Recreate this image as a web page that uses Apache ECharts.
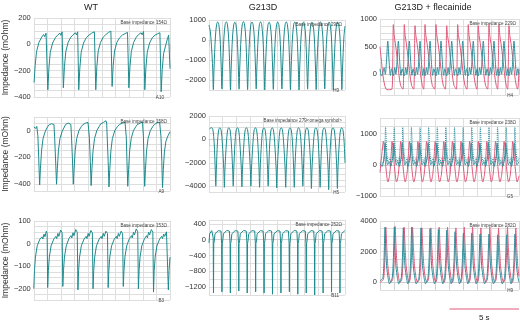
<!DOCTYPE html>
<html><head><meta charset="utf-8">
<script src="https://cdn.jsdelivr.net/npm/echarts@6/dist/echarts.min.js"></script>
<style>html,body{margin:0;padding:0;background:#fff}#c{width:520px;height:323px}</style>
</head><body><div id="c"></div>
<script>
// ---------- DATA (time in s, impedance in mOhm) ----------
const columnTitles = ['WT', 'G213D', 'G213D + flecainide'];
const yAxisTitle = 'Impedance (mOhm)';
const baseLabels = ['Base impedance 154Ω','Base impedance 298Ω','Base impedance 229Ω',
                    'Base impedance 158Ω','Base impedance 279<omega symbol>','Base impedance 238Ω',
                    'Base impedance 153Ω','Base impedance 252Ω','Base impedance 282Ω'];
const wellIds = ['A10','H9','H4','A9','H5','G5','B3','B11','H9'];
const scaleBarSeconds = 5;
const scaleBarLabel = '5 s';

const wtA10 = [0.02,-290,0.1,-160,0.2,-55,0.38,15,0.58,55,0.72,75,0.8,58,0.9,85,0.95,70,1.0,92,1.03,-345,
1.11,-180,1.21,-60,1.38,10,1.58,50,1.75,70,1.82,55,1.92,85,2.0,68,2.08,95,2.13,80,2.15,98,2.17,-330,
2.25,-170,2.35,-55,2.52,15,2.72,55,2.88,72,2.95,58,3.05,88,3.13,72,3.22,95,3.28,100,3.3,-345,
3.38,-180,3.48,-60,3.65,10,3.85,50,4.05,70,4.12,55,4.25,85,4.35,70,4.45,95,4.52,100,4.55,-345,
4.63,-170,4.73,-50,4.9,15,5.1,55,5.3,75,5.37,60,5.48,90,5.56,75,5.66,100,5.72,105,5.75,-320,
5.83,-160,5.93,-50,6.1,15,6.3,50,6.5,70,6.57,55,6.7,82,6.78,68,6.88,90,6.95,88,6.98,-330,
7.06,-170,7.16,-55,7.33,15,7.53,55,7.7,75,7.77,60,7.88,88,7.96,72,8.06,98,8.12,100,8.15,-345,
8.23,-180,8.33,-60,8.5,10,8.7,50,8.9,70,8.97,55,9.08,80,9.16,65,9.26,88,9.32,75,9.35,-360,
9.43,-190,9.53,-70,9.7,0,9.82,45,9.9,70,9.95,75,10,-185];

const wtA9 = [0,25,0.08,35,0.15,15,0.22,30,0.3,-40,0.36,-200,0.43,-405,
0.49,-280,0.57,-150,0.68,-60,0.85,-5,1.0,25,1.1,40,1.18,30,1.28,50,1.35,38,1.42,55,1.48,45,1.53,-50,1.6,-220,1.67,-400,
1.73,-280,1.81,-150,1.92,-60,2.09,-5,2.24,25,2.34,45,2.42,35,2.52,55,2.6,42,2.66,58,2.72,45,2.77,-50,2.84,-220,2.9,-400,
2.96,-280,3.04,-150,3.15,-60,3.32,0,3.5,30,3.62,45,3.7,35,3.82,55,3.92,45,3.98,60,4.03,48,4.08,-50,4.15,-230,4.21,-410,
4.27,-280,4.35,-150,4.46,-60,4.63,0,4.8,30,4.92,50,5.0,40,5.12,60,5.22,50,5.3,72,5.35,55,5.39,-50,5.46,-230,5.52,-420,
5.58,-290,5.66,-150,5.77,-60,5.95,0,6.15,30,6.3,45,6.4,35,6.52,55,6.62,45,6.7,60,6.76,48,6.79,-50,6.84,-230,6.9,-415,
6.96,-290,7.04,-150,7.15,-60,7.32,0,7.5,30,7.62,45,7.7,38,7.82,55,7.92,45,7.98,62,8.02,50,8.05,-50,8.09,-230,8.14,-415,
8.2,-290,8.28,-150,8.39,-60,8.56,0,8.74,30,8.86,45,8.94,38,9.06,58,9.16,45,9.24,62,9.3,48,9.34,-50,9.4,-230,9.45,-425,
9.51,-290,9.59,-160,9.7,-80,9.85,-40,10,-10];

const wtB3 = [0,-200,0.05,-120,0.12,-60,0.25,-10,0.45,20,0.6,30,0.66,20,0.75,42,0.82,30,0.92,55,0.98,45,1.02,-195,
1.07,-120,1.14,-60,1.27,-10,1.47,20,1.62,32,1.68,22,1.77,45,1.84,32,1.97,60,2.08,48,2.13,-190,
2.18,-120,2.25,-60,2.38,-10,2.58,22,2.73,35,2.79,25,2.88,48,2.95,35,3.08,62,3.19,50,3.24,-205,
3.29,-120,3.36,-60,3.49,-10,3.69,20,3.84,32,3.9,22,3.99,45,4.06,32,4.19,58,4.3,48,4.35,-200,
4.4,-120,4.47,-60,4.6,-10,4.8,20,4.95,32,5.01,22,5.1,45,5.17,32,5.3,55,5.41,45,5.46,-195,
5.51,-120,5.58,-60,5.71,-10,5.91,20,6.06,32,6.12,22,6.21,45,6.28,32,6.41,55,6.52,45,6.57,-190,
6.62,-120,6.69,-60,6.82,-10,7.02,22,7.17,35,7.23,25,7.32,50,7.39,38,7.52,65,7.63,52,7.68,-200,
7.73,-120,7.8,-60,7.93,-10,8.13,22,8.28,35,8.34,25,8.43,50,8.5,38,8.63,62,8.74,50,8.79,-215,
8.84,-120,8.91,-60,9.04,-10,9.24,20,9.39,32,9.45,22,9.54,42,9.61,32,9.74,52,9.84,45,9.88,-205,
9.93,-120,10,-60];

const g213dH9 = [0,750,0.1,400,0.2,-500,0.27,-1400,0.32,-2480,
0.37,-1400,0.47,150,0.56,780,0.64,900,0.72,780,0.81,150,0.9,-1400,0.95,-2450,
1.0,-1400,1.1,150,1.19,790,1.27,910,1.35,790,1.44,150,1.53,-1400,1.58,-2500,
1.63,-1400,1.73,150,1.82,770,1.9,890,1.98,770,2.07,150,2.16,-1400,2.21,-2460,
2.26,-1400,2.36,150,2.45,800,2.53,920,2.61,800,2.7,150,2.79,-1400,2.84,-2480,
2.89,-1400,2.99,150,3.08,780,3.16,900,3.24,780,3.33,150,3.42,-1400,3.47,-2450,
3.52,-1400,3.62,150,3.71,790,3.79,910,3.87,790,3.96,150,4.05,-1400,4.1,-2500,
4.15,-1400,4.25,150,4.34,770,4.42,890,4.5,770,4.59,150,4.68,-1400,4.73,-2470,
4.78,-1400,4.88,150,4.97,780,5.05,900,5.13,780,5.22,150,5.31,-1400,5.36,-2450,
5.41,-1400,5.51,150,5.6,790,5.68,910,5.76,790,5.85,150,5.94,-1400,5.99,-2480,
6.04,-1400,6.14,150,6.23,780,6.31,900,6.39,780,6.48,150,6.57,-1400,6.62,-2500,
6.67,-1400,6.77,150,6.86,770,6.94,890,7.02,770,7.11,150,7.2,-1400,7.25,-2460,
7.3,-1400,7.4,150,7.49,780,7.57,900,7.65,780,7.74,150,7.83,-1400,7.88,-2480,
7.93,-1400,8.03,150,8.12,790,8.2,910,8.28,790,8.37,150,8.46,-1400,8.51,-2450,
8.56,-1400,8.66,150,8.75,780,8.83,900,8.91,780,9.0,150,9.09,-1400,9.14,-2500,
9.19,-1400,9.29,150,9.38,770,9.46,890,9.54,770,9.63,150,9.72,-1400,9.77,-2480,
9.82,-1400,9.92,150,10,700];

const g213dH5 = [0.03,900,0.2,1000,0.29,800,0.38,-300,0.46,-2600,0.5,-4000,0.54,-2600,0.62,-300,0.71,800,0.8,1000,
0.89,800,0.98,-300,1.09,-2600,1.13,-4100,1.17,-2600,1.28,-300,1.37,800,1.46,1000,
1.55,800,1.64,-300,1.74,-2600,1.78,-4000,1.82,-2600,1.91,-300,2.0,800,2.09,1000,
2.18,800,2.27,-300,2.38,-2600,2.42,-4050,2.46,-2600,2.57,-300,2.66,800,2.75,1000,
2.84,800,2.93,-300,3.04,-2600,3.08,-4000,3.12,-2600,3.23,-300,3.32,800,3.41,1000,
3.5,800,3.59,-300,3.68,-2600,3.72,-4100,3.76,-2600,3.86,-300,3.95,800,4.04,1000,
4.13,800,4.22,-300,4.31,-2600,4.35,-4000,4.39,-2600,4.47,-300,4.56,800,4.65,1000,
4.74,800,4.83,-300,4.94,-2600,4.98,-4150,5.02,-2600,5.13,-300,5.22,800,5.31,1000,
5.4,800,5.49,-300,5.6,-2600,5.64,-4100,5.68,-2600,5.78,-300,5.87,800,5.96,1000,
6.05,800,6.14,-300,6.23,-2600,6.27,-4100,6.31,-2600,6.41,-300,6.5,800,6.59,1000,
6.68,800,6.77,-300,6.86,-2600,6.9,-4000,6.94,-2600,7.02,-300,7.11,800,7.2,1000,
7.29,800,7.38,-300,7.49,-2600,7.53,-4200,7.57,-2600,7.68,-300,7.77,800,7.86,1000,
7.95,800,8.04,-300,8.13,-2600,8.17,-4100,8.21,-2600,8.29,-300,8.38,800,8.47,1000,
8.56,800,8.65,-300,8.76,-2600,8.8,-4300,8.84,-2600,8.94,-300,9.03,800,9.12,1000,
9.21,800,9.3,-300,9.4,-2600,9.44,-4200,9.48,-2600,9.58,-300,9.67,800,9.76,1000,
9.85,800,9.94,-300,10,-2000];

const g213dB11 = [0,-80,0.05,150,0.12,200,0.2,230,0.28,260,0.31,50,0.33,-1350,
0.35,-100,0.39,-30,0.44,150,0.53,200,0.68,230,0.81,265,0.88,220,0.93,-100,0.95,-1320,
0.97,-100,1.01,-30,1.06,150,1.15,200,1.3,235,1.43,260,1.5,220,1.55,-100,1.57,-1350,
1.59,-100,1.63,-30,1.68,150,1.77,200,1.92,230,2.05,265,2.12,220,2.17,-100,2.19,-1300,
2.21,-100,2.25,-30,2.3,150,2.39,200,2.54,235,2.67,270,2.74,220,2.79,-100,2.81,-1350,
2.83,-100,2.87,-30,2.92,150,3.01,200,3.16,230,3.29,260,3.36,220,3.41,-100,3.43,-1320,
3.45,-100,3.49,-30,3.54,150,3.63,200,3.78,230,3.91,265,3.98,220,4.03,-100,4.05,-1350,
4.07,-100,4.11,-30,4.16,150,4.25,200,4.4,235,4.53,265,4.6,220,4.65,-100,4.67,-1380,
4.69,-100,4.73,-30,4.78,150,4.87,200,5.02,230,5.15,260,5.22,220,5.27,-100,5.29,-1350,
5.31,-100,5.35,-30,5.4,150,5.49,200,5.64,230,5.77,265,5.84,220,5.89,-100,5.91,-1320,
5.93,-100,5.97,-30,6.02,150,6.11,200,6.26,235,6.39,270,6.46,220,6.51,-100,6.53,-1380,
6.55,-100,6.59,-30,6.64,150,6.73,200,6.88,230,7.01,265,7.08,220,7.13,-100,7.15,-1350,
7.17,-100,7.21,-30,7.26,150,7.35,200,7.5,230,7.63,260,7.7,220,7.75,-100,7.77,-1400,
7.79,-100,7.83,-30,7.88,150,7.97,200,8.12,235,8.25,265,8.32,220,8.37,-100,8.39,-1350,
8.41,-100,8.45,-30,8.5,150,8.59,200,8.74,230,8.87,265,8.94,220,8.99,-100,9.01,-1320,
9.03,-100,9.07,-30,9.12,150,9.21,200,9.36,230,9.49,260,9.56,220,9.61,-100,9.63,-1350,
9.65,-100,9.69,-30,9.74,150,9.83,200,9.95,220,10,230];

const flecH4Red = [0,500,0.08,300,0.2,0,0.34,-200,0.5,-280,0.86,-270,0.92,300,0.96,900,1.02,700,1.11,550,1.23,300,1.36,0,1.48,-200,
1.65,-270,1.71,300,1.75,900,1.81,700,1.9,550,2.02,300,2.15,0,2.27,-200,
2.42,-270,2.48,300,2.52,880,2.58,700,2.67,550,2.79,300,2.92,0,3.04,-200,
3.14,-270,3.2,300,3.24,900,3.3,700,3.39,550,3.51,300,3.64,0,3.76,-200,
3.93,-270,3.99,300,4.03,900,4.09,700,4.18,550,4.3,300,4.43,0,4.55,-200,
4.7,-270,4.76,300,4.8,880,4.86,700,4.95,550,5.07,300,5.2,0,5.32,-200,
5.49,-270,5.55,300,5.59,900,5.65,700,5.74,550,5.86,300,5.99,0,6.11,-200,
6.25,-270,6.31,300,6.35,900,6.41,700,6.5,550,6.62,300,6.75,0,6.87,-200,
6.97,-270,7.03,300,7.07,880,7.13,700,7.22,550,7.34,300,7.47,0,7.59,-200,
7.74,-270,7.8,300,7.84,900,7.9,700,7.99,550,8.11,300,8.24,0,8.36,-200,
8.46,-270,8.52,300,8.56,900,8.62,700,8.71,550,8.83,300,8.96,0,9.08,-200,
9.18,-270,9.24,300,9.28,880,9.34,700,9.43,550,9.55,300,9.68,0,9.8,-200,9.9,-270,10,100];

const flecH4Teal = [0,100,0.1,-30,0.18,0,0.3,120,0.38,0,0.47,250,0.56,600,0.65,250,0.75,-20,0.83,100,
0.96,-30,1.06,120,1.14,0,1.23,250,1.32,600,1.41,250,1.51,-20,1.59,100,
1.75,-30,1.85,120,1.93,0,2.02,250,2.11,600,2.2,250,2.3,-20,2.38,100,
2.52,-30,2.62,120,2.7,0,2.79,250,2.88,600,2.97,250,3.07,-20,3.14,100,
3.24,-30,3.34,120,3.42,0,3.51,250,3.6,600,3.69,250,3.79,-20,3.87,100,
4.03,-30,4.13,120,4.21,0,4.3,250,4.39,600,4.48,250,4.58,-20,4.66,100,
4.8,-30,4.9,120,4.98,0,5.07,250,5.16,600,5.25,250,5.35,-20,5.43,100,
5.59,-30,5.69,120,5.77,0,5.86,250,5.95,600,6.04,250,6.14,-20,6.22,100,
6.35,-30,6.45,120,6.53,0,6.62,250,6.71,600,6.8,250,6.9,-20,6.98,100,
7.07,-30,7.17,120,7.25,0,7.34,250,7.43,600,7.52,250,7.62,-20,7.7,100,
7.84,-30,7.94,120,8.02,0,8.11,250,8.2,600,8.29,250,8.39,-20,8.47,100,
8.56,-30,8.66,120,8.74,0,8.83,250,8.92,600,9.01,250,9.11,-20,9.19,100,
9.28,-30,9.38,120,9.46,0,9.55,250,9.64,600,9.73,250,9.83,-20,9.91,100,10,0];

const flecG5Red = [0,-250,0.12,300,0.25,750,0.33,400,0.45,-200,0.57,-550,0.7,-300,0.8,300,
0.87,750,0.95,400,1.07,-200,1.19,-550,1.32,-300,1.42,300,
1.49,750,1.57,400,1.69,-200,1.81,-550,1.94,-300,2.04,300,
2.11,750,2.19,400,2.31,-200,2.43,-550,2.56,-300,2.66,300,
2.73,750,2.81,400,2.93,-200,3.05,-550,3.18,-300,3.28,300,
3.35,750,3.43,400,3.55,-200,3.67,-550,3.8,-300,3.9,300,
3.97,750,4.05,400,4.17,-200,4.29,-550,4.42,-300,4.52,300,
4.59,750,4.67,400,4.79,-200,4.91,-550,5.04,-300,5.14,300,
5.21,750,5.29,400,5.41,-200,5.53,-550,5.66,-300,5.76,300,
5.83,750,5.91,400,6.03,-200,6.15,-550,6.28,-300,6.38,300,
6.45,750,6.53,400,6.65,-200,6.77,-550,6.9,-300,7.0,300,
7.07,750,7.15,400,7.27,-200,7.39,-550,7.52,-300,7.62,300,
7.69,750,7.77,400,7.89,-200,8.01,-550,8.14,-300,8.24,300,
8.31,750,8.39,400,8.51,-200,8.63,-550,8.76,-300,8.86,300,
8.93,750,9.01,400,9.13,-200,9.25,-550,9.38,-300,9.48,300,
9.55,750,9.63,400,9.75,-200,9.87,-550,10,-350];

const flecG5Teal = [0,50,0.15,-50,0.3,300,0.37,700,0.45,300,0.55,0,0.67,100,0.77,-50,
0.92,300,0.99,700,1.07,300,1.17,0,1.29,100,1.39,-50,
1.54,300,1.61,700,1.69,300,1.79,0,1.91,100,2.01,-50,
2.16,300,2.23,700,2.31,300,2.41,0,2.53,100,2.63,-50,
2.78,300,2.85,700,2.93,300,3.03,0,3.15,100,3.25,-50,
3.4,300,3.47,700,3.55,300,3.65,0,3.77,100,3.87,-50,
4.02,300,4.09,700,4.17,300,4.27,0,4.39,100,4.49,-50,
4.64,300,4.71,700,4.79,300,4.89,0,5.01,100,5.11,-50,
5.26,300,5.33,700,5.41,300,5.51,0,5.63,100,5.73,-50,
5.88,300,5.95,700,6.03,300,6.13,0,6.25,100,6.35,-50,
6.5,300,6.57,700,6.65,300,6.75,0,6.87,100,6.97,-50,
7.12,300,7.19,700,7.27,300,7.37,0,7.49,100,7.59,-50,
7.74,300,7.81,700,7.89,300,7.99,0,8.11,100,8.21,-50,
8.36,300,8.43,700,8.51,300,8.61,0,8.73,100,8.83,-50,
8.98,300,9.05,700,9.13,300,9.23,0,9.35,100,9.45,-50,
9.6,300,9.67,700,9.75,300,9.85,0,10,100];

const flecG5Dotted = [0,100,0.2,50,0.33,300,0.4,1200,0.49,400,0.59,100,0.71,200,0.8,50,
0.95,300,1.02,1200,1.11,400,1.21,100,1.33,200,1.42,50,
1.57,300,1.64,1200,1.73,400,1.83,100,1.95,200,2.04,50,
2.19,300,2.26,1200,2.35,400,2.45,100,2.57,200,2.66,50,
2.81,300,2.88,1200,2.97,400,3.07,100,3.19,200,3.28,50,
3.43,300,3.5,1200,3.59,400,3.69,100,3.81,200,3.9,50,
4.05,300,4.12,1200,4.21,400,4.31,100,4.43,200,4.52,50,
4.67,300,4.74,1200,4.83,400,4.93,100,5.05,200,5.14,50,
5.29,300,5.36,1200,5.45,400,5.55,100,5.67,200,5.76,50,
5.91,300,5.98,1200,6.07,400,6.17,100,6.29,200,6.38,50,
6.53,300,6.6,1200,6.69,400,6.79,100,6.91,200,7.0,50,
7.15,300,7.22,1200,7.31,400,7.41,100,7.53,200,7.62,50,
7.77,300,7.84,1200,7.93,400,8.03,100,8.15,200,8.24,50,
8.39,300,8.46,1200,8.55,400,8.65,100,8.77,200,8.86,50,
9.01,300,9.08,1200,9.17,400,9.27,100,9.39,200,9.48,50,
9.63,300,9.7,1200,9.79,400,9.89,100,10,200];

const flecH9Teal = [0,100,
0.21,300,0.29,1500,0.36,3600,0.41,2200,0.48,1000,0.58,300,0.68,-100,
0.88,300,0.96,1500,1.03,3600,1.08,2200,1.15,1000,1.25,300,1.35,-100,
1.53,300,1.61,1500,1.68,3550,1.73,2200,1.8,1000,1.9,300,2.0,-100,
2.13,300,2.21,1500,2.28,3600,2.33,2200,2.4,1000,2.5,300,2.6,-100,
2.8,300,2.88,1500,2.95,3550,3.0,2200,3.07,1000,3.17,300,3.27,-100,
3.45,300,3.53,1500,3.6,3500,3.65,2200,3.72,1000,3.82,300,3.92,-100,
4.05,300,4.13,1500,4.2,3450,4.25,2200,4.32,1000,4.42,300,4.52,-100,
4.65,300,4.73,1500,4.8,3400,4.85,2200,4.92,1000,5.02,300,5.12,-100,
5.25,300,5.33,1500,5.4,3300,5.45,2200,5.52,1000,5.62,300,5.72,-100,
5.85,300,5.93,1500,6.0,3200,6.05,2200,6.12,1000,6.22,300,6.32,-100,
6.45,300,6.53,1500,6.6,3200,6.65,2200,6.72,1000,6.82,300,6.92,-100,
7.05,300,7.13,1500,7.2,3150,7.25,2200,7.32,1000,7.42,300,7.52,-100,
7.69,300,7.77,1500,7.84,3150,7.89,2200,7.96,1000,8.06,300,8.16,-100,
8.32,300,8.4,1500,8.47,3100,8.52,2200,8.59,1000,8.69,300,8.79,-100,
8.96,300,9.04,1500,9.11,3100,9.16,2200,9.23,1000,9.33,300,9.43,-100,
9.56,300,9.64,1500,9.71,3150,9.76,2200,9.83,1000,9.93,300,10,0];

const flecH9Red = [0,0,
0.25,200,0.34,1400,0.42,3600,0.48,2400,0.56,1100,0.67,300,0.77,0,
0.92,200,1.01,1400,1.09,3650,1.15,2400,1.23,1100,1.34,300,1.44,0,
1.57,200,1.66,1400,1.74,3600,1.8,2400,1.88,1100,1.99,300,2.09,0,
2.17,200,2.26,1400,2.34,3600,2.4,2400,2.48,1100,2.59,300,2.69,0,
2.84,200,2.93,1400,3.01,3550,3.07,2400,3.15,1100,3.26,300,3.36,0,
3.49,200,3.58,1400,3.66,3550,3.72,2400,3.8,1100,3.91,300,4.01,0,
4.09,200,4.18,1400,4.26,3600,4.32,2400,4.4,1100,4.51,300,4.61,0,
4.69,200,4.78,1400,4.86,3600,4.92,2400,5.0,1100,5.11,300,5.21,0,
5.29,200,5.38,1400,5.46,3550,5.52,2400,5.6,1100,5.71,300,5.81,0,
5.89,200,5.98,1400,6.06,3600,6.12,2400,6.2,1100,6.31,300,6.41,0,
6.49,200,6.58,1400,6.66,3600,6.72,2400,6.8,1100,6.91,300,7.01,0,
7.09,200,7.18,1400,7.26,3550,7.32,2400,7.4,1100,7.51,300,7.61,0,
7.73,200,7.82,1400,7.9,3600,7.96,2400,8.04,1100,8.15,300,8.25,0,
8.36,200,8.45,1400,8.53,3550,8.59,2400,8.67,1100,8.78,300,8.88,0,
9.0,200,9.09,1400,9.17,3600,9.23,2400,9.31,1100,9.42,300,9.52,0,
9.6,200,9.69,1400,9.77,3550,9.83,2400,9.91,1100,10,400];

// ---------- LAYOUT / STYLE ----------
const TEAL = '#1d8a8d', TEAL2 = '#2a8e9b', RED = '#e0587a';
const FONT = 'Liberation Sans, Arial, Helvetica, sans-serif';
const panels = [
  {l:30, t:18, w:140,h:79, min:-400, max:200, step:50, major:200, lines:[[wtA10,TEAL,'solid',0]]},
  {l:209,t:20, w:136,h:70, min:-2500,max:1000,step:500,major:1000,lines:[[g213dH9,TEAL,'solid',0.3]]},
  {l:380,t:19, w:139,h:76, min:-375, max:1000,step:125,major:500, lines:[[flecH4Red,RED,'solid',0.3],[flecH4Teal,TEAL2,'solid',0.3]]},
  {l:30, t:117,w:140,h:74, min:-450, max:100, step:50, major:200, lines:[[wtA9,TEAL,'solid',0]]},
  {l:209,t:116,w:136,h:76, min:-4500,max:2000,step:500,major:2000,lines:[[g213dH5,TEAL,'solid',0.3]]},
  {l:380,t:118,w:139,h:78, min:-1000,max:1500,step:250,major:1000,lines:[[flecG5Red,RED,'solid',0.3],[flecG5Teal,TEAL2,'solid',0.3],[flecG5Dotted,TEAL2,'dotted',0.3]]},
  {l:30, t:221,w:140,h:79, min:-250, max:100, step:25, major:100, lines:[[wtB3,TEAL,'solid',0]]},
  {l:209,t:220,w:136,h:75, min:-1400,max:500, step:200,major:400, lines:[[g213dB11,TEAL,'solid',0]]},
  {l:380,t:221,w:139,h:69, min:-500, max:4000,step:500,major:2000,lines:[[flecH9Red,RED,'solid',0.2],[flecH9Teal,TEAL2,'solid',0.2]]}
];
const colCenters = [91, 263, 433];

function pairs(a){const r=[];for(let i=0;i+1<a.length;i+=2)r.push([a[i],a[i+1]]);return r;}

const grids=[],xAxes=[],yAxes=[],series=[],graphics=[];
panels.forEach((p,i)=>{
  grids.push({left:p.l,top:p.t,width:p.w,height:p.h,containLabel:false});
  xAxes.push({type:'value',gridIndex:i,min:0,max:10,interval:1,
    axisLabel:{show:false},
    axisLine:{show:true,lineStyle:{color:'#cfcfcf',width:1}},
    axisTick:{show:true,length:7,lineStyle:{color:'#cfcfcf'}},
    splitLine:{show:true,lineStyle:{color:'#dedede',width:1}}});
  yAxes.push({type:'value',gridIndex:i,min:p.min,max:p.max,interval:p.step,
    name:(i%3===0)?yAxisTitle:'',nameLocation:'middle',nameGap:21,nameRotate:90,
    nameTextStyle:{fontSize:8.5,color:'#333',fontFamily:FONT},
    axisLine:{show:false},axisTick:{show:false},
    splitLine:{show:true,lineStyle:{color:'#dedede',width:1}},
    axisLabel:{fontSize:7.5,color:'#333',margin:3,fontFamily:FONT,
      formatter:v=>(Math.abs(v%p.major)<1e-6 && v<=p.max)?String(v).replace('-','\u2212'):''}});
  p.lines.forEach(([d,c,type,sm])=>{
    series.push({type:'line',xAxisIndex:i,yAxisIndex:i,data:pairs(d),showSymbol:false,
      smooth:sm||false,animation:false,silent:true,
      lineStyle:{color:c,width:1,type:type}});
  });
  graphics.push({type:'text',x:p.l+p.w-3,y:p.t+5,silent:true,
    style:{text:baseLabels[i],fill:'#444',font:'4.6px '+FONT,textAlign:'right',textVerticalAlign:'middle'},z:10});
  graphics.push({type:'text',x:p.l+p.w-6,y:p.t+p.h+1,silent:true,
    style:{text:wellIds[i],fill:'#444',font:'4.6px '+FONT,textAlign:'right',textVerticalAlign:'middle'},z:10});
});
columnTitles.forEach((t,j)=>{
  graphics.push({type:'text',x:colCenters[j],y:8,silent:true,
    style:{text:t,fill:'#222',font:'9px '+FONT,textAlign:'center',textVerticalAlign:'middle'}});
});

const chart = echarts.init(document.getElementById('c'),null,{renderer:'canvas'});
chart.setOption({animation:false,grid:grids,xAxis:xAxes,yAxis:yAxes,series:series,graphic:graphics});
// scale bar measured on the last panel's time axis
const x0 = chart.convertToPixel({xAxisIndex:8}, 10 - scaleBarSeconds);
const x1 = chart.convertToPixel({xAxisIndex:8}, 10);
graphics.push({type:'line',shape:{x1:x0,y1:309,x2:x1,y2:309},style:{stroke:RED,lineWidth:1},silent:true});
graphics.push({type:'text',x:(x0+x1)/2,y:318,silent:true,
  style:{text:scaleBarLabel,fill:'#222',font:'8px '+FONT,textAlign:'center',textVerticalAlign:'middle'}});
chart.setOption({graphic:graphics});
</script>
</body></html>
